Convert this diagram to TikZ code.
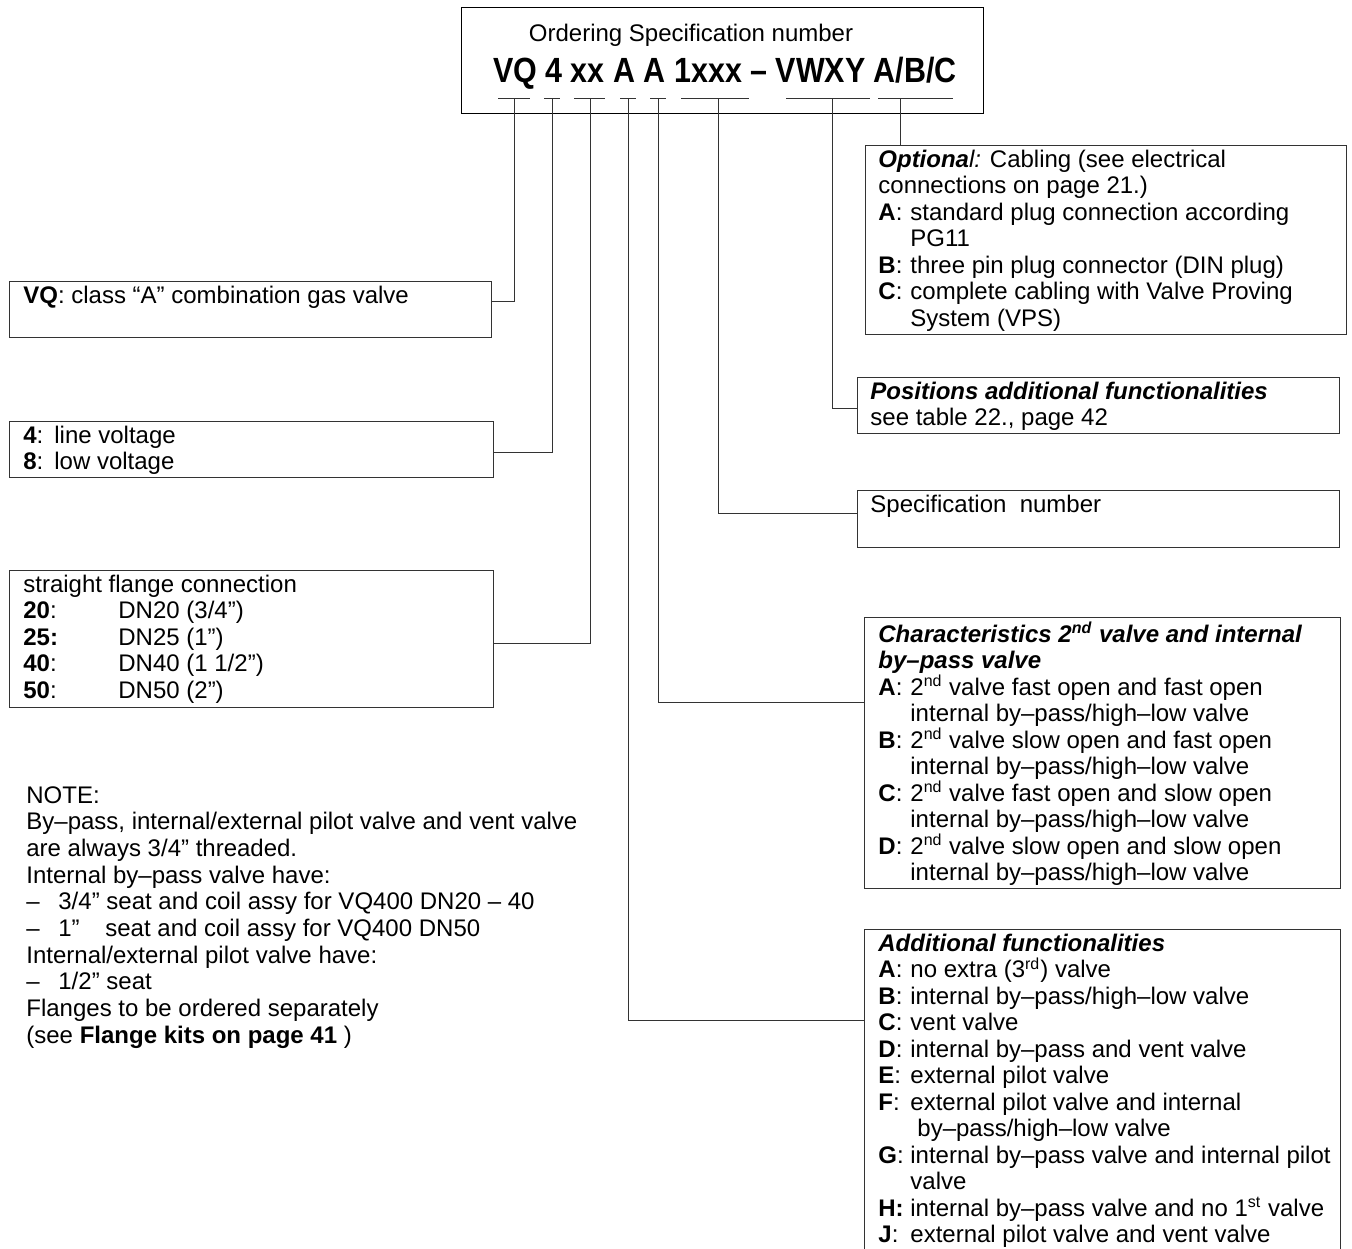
\documentclass[tikz,border=0pt]{standalone}
\usepackage{fontspec}
\setmainfont{Liberation Sans}
\newfontfamily\narrowfont[FakeStretch=0.87]{Liberation Sans}
\usetikzlibrary{calc}

\newcommand{\lbl}[1]{\makebox[16pt][l]{\textbf{#1}:}}
\newcommand{\hang}{\hspace*{16pt}}

\begin{document}
\begin{tikzpicture}[x=0.5pt,y=-0.5pt,
  box/.style={draw=black!80,line width=0.5pt,anchor=north west,inner sep=0pt},
  txt/.style={anchor=north west,inner xsep=7pt,inner ysep=2.3pt,align=left,font=\fontsize{12}{13.25}\selectfont},
  lead/.style={draw=black!80,line width=0.5pt}]

\useasboundingbox (0,0) rectangle (1352,1248);

% ordering number
\node[box,draw=black,line width=0.7pt,minimum width=261pt,minimum height=53pt] (order) at (461,7) {};
\node[font=\fontsize{12}{14}\selectfont,anchor=base] (ordtitle) at (691,41) {Ordering Specification number};
\node[font=\narrowfont\bfseries\fontsize{17.5}{20}\selectfont,anchor=base] (ordcode) at (725,82) {VQ 4 xx A A 1xxx – VWXY A/B/C};
\foreach \a/\b/\t [count=\i] in {498/530/514,544/560/552,574/605/590,620/636/628,650/666/658,681/749/718,786/870/832,878/953/900}
{
  \draw[lead] (\a,98) -- (\b,98);
  \coordinate (t\i) at (\t,98);
}

% left boxes
\node[box,minimum width=241pt,minimum height=28pt] (vq) at (9,281) {};
\node[txt] (vqtxt) at (vq.north west) {\textbf{VQ}: class “A” combination gas valve};
\node[box,minimum width=242pt,minimum height=28pt] (volt) at (9,421) {};
\node[txt] (volttxt) at (volt.north west) {\makebox[15.5pt][l]{\textbf{4}:}line voltage\\ \makebox[15.5pt][l]{\textbf{8}:}low voltage};
\node[box,minimum width=242pt,minimum height=68.5pt] (flange) at (9,570) {};
\node[txt] (flangetxt) at (flange.north west) {straight flange connection\\
  \makebox[47.5pt][l]{\textbf{20}:}DN20 (3/4”)\\
  \makebox[47.5pt][l]{\textbf{25:}}DN25 (1”)\\
  \makebox[47.5pt][l]{\textbf{40}:}DN40 (1 1/2”)\\
  \makebox[47.5pt][l]{\textbf{50}:}DN50 (2”)};

% note
\node[txt,inner sep=0pt,font=\fontsize{12}{13.33}\selectfont] (note) at (26,786) {NOTE:\\
  By--pass, internal/external pilot valve and vent valve\\
  are always 3/4” threaded.\\
  Internal by--pass valve have:\\
  \makebox[16pt][l]{--}3/4” seat and coil assy for VQ400 DN20 -- 40\\
  \makebox[16pt][l]{--}\makebox[23.5pt][l]{1”}seat and coil assy for VQ400 DN50\\
  Internal/external pilot valve have:\\
  \makebox[16pt][l]{--}1/2” seat\\
  Flanges to be ordered separately\\
  (see \textbf{Flange kits on page 41} )};

% right boxes
\node[box,minimum width=240.5pt,minimum height=94.5pt] (opt) at (865,145) {};
\node[txt,inner xsep=6.5pt] (opttxt) at (opt.north west) {\textbf{\textit{Optiona}}\textit{l:} Cabling (see electrical\\
  connections on page 21.)\\
  \lbl{A}standard plug connection according\\
  \hang PG11\\
  \lbl{B}three pin plug connector (DIN plug)\\
  \lbl{C}complete cabling with Valve Proving\\
  \hang System (VPS)};
\node[box,minimum width=241pt,minimum height=28pt] (pos) at (857,377) {};
\node[txt,inner xsep=6.5pt] (postxt) at (pos.north west) {\textbf{\textit{Positions additional functionalities}}\\ see table 22., page 42};
\node[box,minimum width=241pt,minimum height=28.5pt] (spec) at (857,490) {};
\node[txt,inner xsep=6.5pt] (spectxt) at (spec.north west) {Specification\ \ number};
\node[box,minimum width=238pt,minimum height=135.5pt] (chr) at (864,617) {};
\node[txt] (chrtxt) at (chr.north west) {\textbf{\textit{Characteristics 2\textsuperscript{nd} valve and internal}}\\
  \textbf{\textit{by--pass valve}}\\
  \lbl{A}2\textsuperscript{nd} valve fast open and fast open\\
  \hang internal by--pass/high--low valve\\
  \lbl{B}2\textsuperscript{nd} valve slow open and fast open\\
  \hang internal by--pass/high--low valve\\
  \lbl{C}2\textsuperscript{nd} valve fast open and slow open\\
  \hang internal by--pass/high--low valve\\
  \lbl{D}2\textsuperscript{nd} valve slow open and slow open\\
  \hang internal by--pass/high--low valve};
\node[box,minimum width=238pt,minimum height=170pt] (add) at (864,929) {};
\node[txt] (addtxt) at (add.north west) {\textbf{\textit{Additional functionalities}}\\
  \lbl{A}no extra (3\textsuperscript{rd}) valve\\
  \lbl{B}internal by--pass/high--low valve\\
  \lbl{C}vent valve\\
  \lbl{D}internal by--pass and vent valve\\
  \lbl{E}external pilot valve\\
  \lbl{F}external pilot valve and internal\\
  \hspace*{19.5pt}by--pass/high--low valve\\
  \lbl{G}internal by--pass valve and internal pilot\\
  \hang valve\\
  \makebox[16pt][l]{\textbf{H:}}internal by--pass valve and no 1\textsuperscript{st} valve\\
  \lbl{J}external pilot valve and vent valve};

% leads
\draw[lead] (t1) |- (vq.east |- 0,301);
\draw[lead] (t2) |- (volt.east |- 0,452);
\draw[lead] (t3) |- (flange.east |- 0,643);
\draw[lead] (t4) |- (add.west |- 0,1020);
\draw[lead] (t5) |- (chr.west |- 0,702);
\draw[lead] (t6) |- (spec.west |- 0,513);
\draw[lead] (t7) |- (pos.west |- 0,408);
\draw[lead] (t8) -- (t8 |- opt.north);
\end{tikzpicture}
\end{document}
